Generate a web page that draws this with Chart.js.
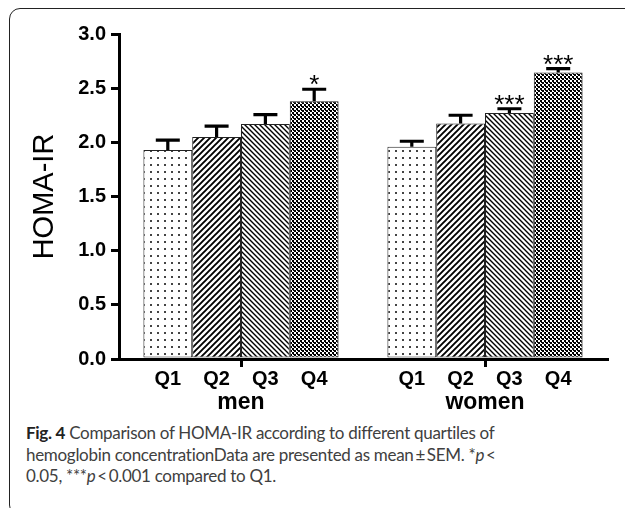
<!DOCTYPE html>
<html lang="en">
<head>
    <meta charset="UTF-8">
    <title>HOMA-IR by hemoglobin quartile</title>
    <script src="https://cdn.jsdelivr.net/npm/chart.js"></script>
    <style>
        html, body {
            margin: 0;
            padding: 0;
            background: #fff;
            overflow: hidden;
        }
        .page {
            position: relative;
            width: 625px;
            height: 508px;
            overflow: hidden;
        }
        /* rounded frame, cut off on the right and bottom like the scan */
        .frame {
            position: absolute;
            left: 9px;
            top: 8px;
            width: 660px;
            height: 506px;
            border: 1.5px solid #222;
            border-radius: 11px;
        }
        #chart {
            position: absolute;
            left: 0;
            top: 0;
        }
        .caption {
            position: absolute;
            left: 26px;
            top: 422px;
            font-family: Lato, "Open Sans", sans-serif;
            font-size: 17px;
            letter-spacing: -0.3px;
            line-height: 21.7px;
            color: #404040;
            white-space: nowrap;
        }
        .caption b {
            color: #222;
        }
    </style>
</head>
<body>
    <div class="page">
        <div class="frame"></div>
        <canvas id="chart" width="625" height="420"></canvas>
        <div class="caption">
            <b>Fig. 4</b> Comparison of HOMA-IR according to different quartiles of<br>
            hemoglobin concentrationData are presented as mean&thinsp;&plusmn;&thinsp;SEM. *<i>p</i>&thinsp;&lt;<br>
            0.05, ***<i>p</i>&thinsp;&lt;&thinsp;0.001 compared to Q1.
        </div>
    </div>

    <script>
        // data
        const groups = ['men', 'women'];
        const quartiles = ['Q1', 'Q2', 'Q3', 'Q4'];
        const menMean = [1.93, 2.05, 2.17, 2.38];
        const menSem = [0.09, 0.10, 0.085, 0.11];
        const womenMean = [1.96, 2.175, 2.27, 2.645];
        const womenSem = [0.05, 0.075, 0.04, 0.035];
        const menStars = ['', '', '', '*'];
        const womenStars = ['', '', '***', '***'];
        const yTicks = [0, 0.5, 1.0, 1.5, 2.0, 2.5, 3.0];

        const tickFont = '"Liberation Sans", Arial, sans-serif';

        // --- fill patterns ---
        function makeTile(size, draw) {
            const c = document.createElement('canvas');
            c.width = size;
            c.height = size;
            const g = c.getContext('2d');
            g.fillStyle = '#fff';
            g.fillRect(0, 0, size, size);
            draw(g, size);
            return document.createElement('canvas').getContext('2d').createPattern(c, 'repeat');
        }

        const dotFill = makeTile(7, function (g) {
            g.fillStyle = '#444';
            g.fillRect(3, 3, 2, 2);
        });

        function stripes(dir, width) {
            return function (g, s) {
                g.strokeStyle = '#000';
                g.lineWidth = width;
                g.beginPath();
                if (dir === 'up') {
                    g.moveTo(-1, 1); g.lineTo(1, -1);
                    g.moveTo(0, s); g.lineTo(s, 0);
                    g.moveTo(s - 1, s + 1); g.lineTo(s + 1, s - 1);
                } else {
                    g.moveTo(-1, s - 1); g.lineTo(1, s + 1);
                    g.moveTo(0, 0); g.lineTo(s, s);
                    g.moveTo(s - 1, -1); g.lineTo(s + 1, 1);
                }
                g.stroke();
            };
        }
        const upFill = makeTile(6, stripes('up', 1.9));
        const downFill = makeTile(5, stripes('down', 1.4));

        const checkFill = makeTile(4, function (g) {
            g.fillStyle = '#000';
            g.fillRect(0, 0, 2, 2);
            g.fillRect(2, 2, 2, 2);
            g.fillRect(1, 2, 1, 1);
        });

        const fills = [dotFill, upFill, downFill, checkFill];

        const datasets = quartiles.map(function (q, i) {
            return {
                label: q,
                data: [menMean[i], womenMean[i]],
                sem: [menSem[i], womenSem[i]],
                stars: [menStars[i], womenStars[i]],
                backgroundColor: fills[i],
                borderColor: '#222',
                borderWidth: 1,
                borderSkipped: false
            };
        });

        // error bars, stars and the Q labels under each bar
        const extras = {
            id: 'extras',
            afterDatasetsDraw(chart) {
                const ctx = chart.ctx;
                const y = chart.scales.y;
                ctx.save();
                chart.data.datasets.forEach(function (ds, di) {
                    const meta = chart.getDatasetMeta(di);
                    meta.data.forEach(function (bar, i) {
                        const top = y.getPixelForValue(ds.data[i]);
                        const cap = y.getPixelForValue(ds.data[i] + ds.sem[i]);
                        ctx.strokeStyle = '#000';
                        ctx.lineWidth = 3.2;
                        ctx.beginPath();
                        ctx.moveTo(bar.x, top);
                        ctx.lineTo(bar.x, cap);
                        ctx.moveTo(bar.x - 12, cap);
                        ctx.lineTo(bar.x + 12, cap);
                        ctx.stroke();

                        if (ds.stars[i]) {
                            ctx.fillStyle = '#000';
                            ctx.font = '26px ' + tickFont;
                            ctx.textAlign = 'center';
                            ctx.textBaseline = 'alphabetic';
                            ctx.fillText(ds.stars[i], bar.x, cap + 4);
                        }

                        ctx.fillStyle = '#000';
                        ctx.font = 'bold 20px ' + tickFont;
                        ctx.textAlign = 'center';
                        ctx.textBaseline = 'alphabetic';
                        ctx.fillText(ds.label, bar.x, chart.chartArea.bottom + 26);
                    });
                });
                ctx.restore();
            }
        };

        new Chart(document.getElementById('chart'), {
            type: 'bar',
            data: {
                labels: groups,
                datasets: datasets
            },
            plugins: [extras],
            options: {
                responsive: false,
                animation: false,
                layout: {
                    padding: { top: 34, right: 18, bottom: 0, left: 0 }
                },
                plugins: {
                    legend: { display: false },
                    tooltip: { enabled: false }
                },
                datasets: {
                    bar: {
                        categoryPercentage: 0.8,
                        barPercentage: 1.0
                    }
                },
                scales: {
                    x: {
                        offset: true,
                        afterFit: function (scale) { scale.height = 61; },
                        border: { display: true, color: '#000', width: 3 },
                        grid: {
                            offset: false,
                            drawOnChartArea: false,
                            drawTicks: true,
                            tickLength: 8,
                            color: '#000',
                            lineWidth: 3
                        },
                        ticks: {
                            color: '#000',
                            padding: 22,
                            font: { family: tickFont, size: 23, weight: 'bold' }
                        }
                    },
                    y: {
                        min: 0,
                        max: 3,
                        afterFit: function (scale) { scale.width = 119; },
                        afterBuildTicks: function (scale) {
                            scale.ticks = yTicks.map(function (v) { return { value: v }; });
                        },
                        border: { display: true, color: '#000', width: 3 },
                        grid: {
                            drawOnChartArea: false,
                            drawTicks: true,
                            tickLength: 8,
                            color: '#000',
                            lineWidth: 3
                        },
                        ticks: {
                            color: '#000',
                            padding: 5,
                            font: { family: tickFont, size: 20, weight: 'bold' },
                            callback: function (v) { return Number(v).toFixed(1); }
                        },
                        title: {
                            display: true,
                            text: 'HOMA-IR',
                            color: '#000',
                            padding: { top: 28, bottom: 0 },
                            font: { family: tickFont, size: 29, weight: 'normal' }
                        }
                    }
                }
            }
        });
    </script>
</body>
</html>
